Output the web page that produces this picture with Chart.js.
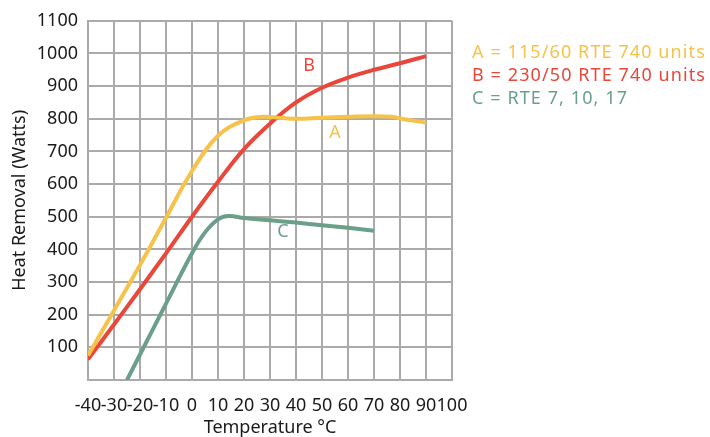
<!DOCTYPE html>
<html>
<head>
<meta charset="utf-8">
<script src="https://cdn.jsdelivr.net/npm/chart.js@4/dist/chart.umd.min.js"></script>
<style>
  html, body { margin: 0; padding: 0; background: #ffffff; }
  #wrap { position: relative; width: 710px; height: 437px; }
  #legend { position: absolute; left: 472px; top: 40px; font-family: "Noto Sans", sans-serif; font-size: 18px; letter-spacing: 1.1px; line-height: 23px; white-space: nowrap; }
</style>
</head>
<body>
<div id="wrap">
  <canvas id="c" width="710" height="437"></canvas>
  <div id="legend"></div>
</div>
<script>
// Temperature (°C) and heat removal (Watts) for each curve
const tempsA = [-40, -30, -20, -10, 0, 10, 20, 27, 35, 40, 50, 60, 70, 77, 80, 90];
const wattsA = [75, 213, 352, 497, 640, 748, 795, 806, 802, 800, 803, 806, 808, 806, 801, 788];
const tempsB = [-40, -30, -20, -10, 0, 10, 20, 30, 40, 50, 60, 70, 80, 90];
const wattsB = [63, 170, 278, 388, 500, 607, 707, 785, 850, 895, 926, 950, 970, 992];
const tempsC = [-25, -20, -10, 0, 5, 10, 14, 20, 30, 40, 50, 60, 70];
const wattsC = [0, 78, 234, 388, 452, 492, 502, 496, 489, 482, 474, 466, 457];

const seriesNames = ["A", "B", "C"];
const legendTexts = ["A = 115/60 RTE 740 units", "B = 230/50 RTE 740 units", "C = RTE 7, 10, 17"];
const seriesColors = ["#f6c24a", "#e8473a", "#6c9f89"];
// in-plot letter labels, anchored in data units
const labelTemps = [55, 45, 35];
const labelWatts = [757, 961, 453];

const xTicksMin = -40, xTicksMax = 100, xStep = 10;
const yTicksMin = 0, yTicksMax = 1100, yStep = 100;

const legendEl = document.getElementById('legend');
legendTexts.forEach((t, i) => {
  const d = document.createElement('div');
  d.textContent = t;
  d.style.color = seriesColors[i];
  legendEl.appendChild(d);
});

function pts(xs, ys) { return xs.map((x, i) => ({x: x, y: ys[i]})); }

const letterLabels = {
  id: 'letterLabels',
  afterDatasetsDraw(chart) {
    const ctx = chart.ctx;
    const xs = chart.scales.x, ys = chart.scales.y;
    ctx.save();
    ctx.font = '18px "Noto Sans", sans-serif';
    ctx.textAlign = 'center';
    ctx.textBaseline = 'middle';
    seriesNames.forEach((n, i) => {
      ctx.fillStyle = seriesColors[i];
      ctx.fillText(n, xs.getPixelForValue(labelTemps[i]), ys.getPixelForValue(labelWatts[i]));
    });
    ctx.restore();
  }
};

const font = { family: '"Noto Sans", sans-serif', size: 18 };

new Chart(document.getElementById('c'), {
  type: 'line',
  data: {
    datasets: [
      { label: 'A', data: pts(tempsA, wattsA), borderColor: seriesColors[0] },
      { label: 'B', data: pts(tempsB, wattsB), borderColor: seriesColors[1] },
      { label: 'C', data: pts(tempsC, wattsC), borderColor: seriesColors[2] }
    ].map(d => Object.assign(d, { borderWidth: 4, pointRadius: 0, fill: false, tension: 0.4, borderCapStyle: 'butt' }))
  },
  options: {
    responsive: false,
    animation: false,
    events: [],
    layout: { padding: { left: 0, top: 15, right: 258, bottom: 0 } },
    plugins: { legend: { display: false }, tooltip: { enabled: false } },
    scales: {
      x: {
        type: 'linear',
        min: xTicksMin, max: xTicksMax,
        ticks: { stepSize: xStep, color: '#1a1a1a', font: font, padding: 15, maxRotation: 0, autoSkip: false },
        grid: { color: '#aaaaaa', lineWidth: 2, drawTicks: false },
        border: { color: '#aaaaaa', width: 2 },
        title: { display: true, text: 'Temperature °C', color: '#1a1a1a', font: font, padding: { top: 0, bottom: -2 } },
        afterFit(s) { s.height = 57; }
      },
      y: {
        type: 'linear',
        min: yTicksMin, max: yTicksMax,
        ticks: { stepSize: yStep, color: '#1a1a1a', font: font, padding: 10, callback: v => v === 0 ? '' : v },
        grid: { color: '#aaaaaa', lineWidth: 2, drawTicks: false },
        border: { color: '#aaaaaa', width: 2 },
        title: { display: true, text: 'Heat Removal (Watts)', color: '#1a1a1a', font: font, padding: { top: 9, bottom: 0 } },
        afterFit(s) { s.width = 88; }
      }
    }
  },
  plugins: [letterLabels]
});
</script>
</body>
</html>
